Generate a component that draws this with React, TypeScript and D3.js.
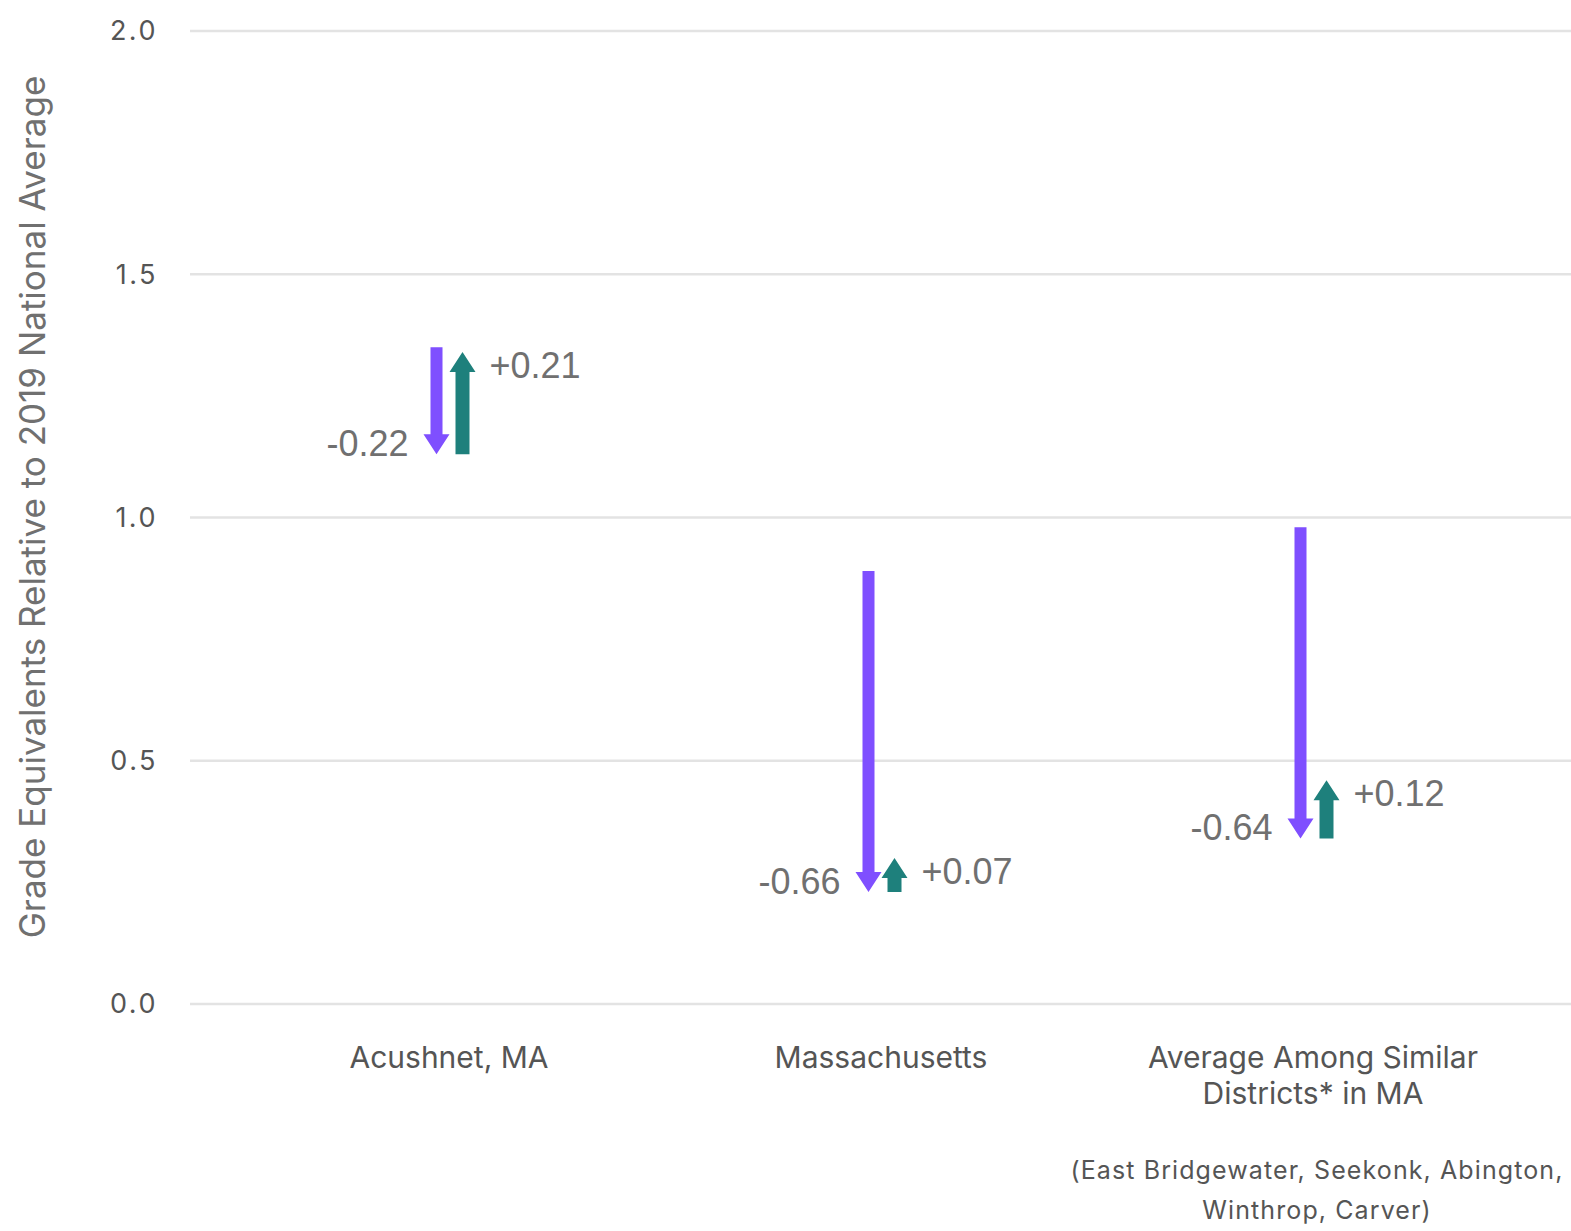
import React from "react";
import * as d3 from "d3";

const categories = ["Acushnet, MA", "Massachusetts", "Average Among Similar Districts* in MA"];
const categoryLines = [["Acushnet, MA"], ["Massachusetts"], ["Average Among Similar", "Districts* in MA"]];
const startValues = [1.35, 0.89, 0.98];
const declineValues = [-0.22, -0.66, -0.64];
const recoveryValues = [0.21, 0.07, 0.12];
const yTicks = [0, 0.5, 1.0, 1.5, 2.0];
const footnoteLines = ["(East Bridgewater, Seekonk, Abington,", "Winthrop, Carver)"];
const yTitle = "Grade Equivalents Relative to 2019 National Average";

const W = 1571;
const H = 1231;
const PURPLE = "#7f4fff";
const TEAL = "#1e807c";
const TEXT = "#555555";
const LABEL = "#707070";

function arrowPath(cx: number, y0: number, y1: number, shaftW: number, headW: number, headH: number) {
  const dir = y1 > y0 ? 1 : -1;
  const yb = y1 - dir * headH;
  const p = d3.path();
  p.moveTo(cx - shaftW / 2, y0);
  p.lineTo(cx + shaftW / 2, y0);
  p.lineTo(cx + shaftW / 2, yb);
  p.lineTo(cx + headW / 2, yb);
  p.lineTo(cx, y1);
  p.lineTo(cx - headW / 2, yb);
  p.lineTo(cx - shaftW / 2, yb);
  p.closePath();
  return p.toString();
}

export default function App() {
  const y = d3.scaleLinear().domain([0, 2]).range([1004, 31]);
  const x = d3.scalePoint<string>().domain(categories).range([449, 1313]);
  const fmt = (v: number) => (v > 0 ? "+" : "") + v.toFixed(2);

  return (
    <svg width={W} height={H} style={{ position: "absolute", left: 0, top: 0, background: "#fff" }}>
      {yTicks.map((t) => (
        <g key={t}>
          <line x1={190} x2={W} y1={y(t)} y2={y(t)} stroke="#e3e3e3" strokeWidth={2.5} />
          <text x={158} y={y(t)} dy="0.35em" textAnchor="end" fontFamily="Inter" fontSize={27} fill={TEXT} letterSpacing={2.5}>
            {t.toFixed(1)}
          </text>
        </g>
      ))}
      <text
        transform={`translate(33,507) rotate(-90)`}
        textAnchor="middle"
        dy="0.35em"
        fontFamily="Inter"
        fontSize={35}
        fill={LABEL}
      >
        {yTitle}
      </text>
      {categories.map((c, i) => {
        const cx = x(c)!;
        const s = startValues[i];
        const e = s + declineValues[i];
        const r = e + recoveryValues[i];
        const px = cx - 12.5;
        const tx = cx + 13.5;
        return (
          <g key={c}>
            <path d={arrowPath(px, y(s), y(e), 12, 26, 20)} fill={PURPLE} />
            <path d={arrowPath(tx, y(e), y(r), 14, 26, 20)} fill={TEAL} />
            <text x={px - 28} y={y(e) - 11} dy="0.35em" textAnchor="end" fontFamily="Liberation Sans" fontSize={36} fill={LABEL}>
              {fmt(declineValues[i])}
            </text>
            <text x={tx + 27} y={y(r) + 13} dy="0.35em" textAnchor="start" fontFamily="Liberation Sans" fontSize={36} fill={LABEL}>
              {fmt(recoveryValues[i])}
            </text>
            {categoryLines[i].map((line, j) => (
              <text key={j} x={cx} y={1057 + j * 36} dy="0.35em" textAnchor="middle" fontFamily="Inter" fontSize={30} fill={TEXT}>
                {line}
              </text>
            ))}
          </g>
        );
      })}
      {footnoteLines.map((line, j) => (
        <text key={j} x={1317} y={1170 + j * 40} dy="0.35em" textAnchor="middle" fontFamily="Inter" fontSize={25} fill={TEXT} letterSpacing={1.1}>
          {line}
        </text>
      ))}
    </svg>
  );
}
